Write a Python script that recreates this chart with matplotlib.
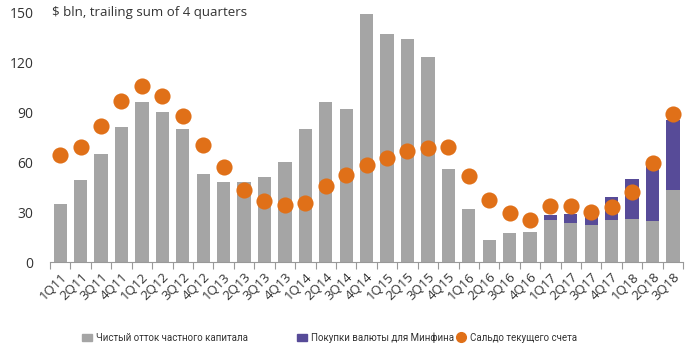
import numpy as np
import matplotlib
matplotlib.use("Agg")
import matplotlib.pyplot as plt
from matplotlib.lines import Line2D
from matplotlib.patches import Patch

plt.rcParams['font.family'] = ['Open Sans', 'DejaVu Sans']

# Данные (млрд долл., скользящая сумма за 4 квартала)
kvartaly = ['1Q11', '2Q11', '3Q11', '4Q11', '1Q12', '2Q12', '3Q12', '4Q12',
            '1Q13', '2Q13', '3Q13', '4Q13', '1Q14', '2Q14', '3Q14', '4Q14',
            '1Q15', '2Q15', '3Q15', '4Q15', '1Q16', '2Q16', '3Q16', '4Q16',
            '1Q17', '2Q17', '3Q17', '4Q17', '1Q18', '2Q18', '3Q18']
ottok = [35, 49, 65, 81, 96, 90, 80, 53, 48, 48, 51, 60, 80, 96, 92, 149,
         137, 134, 123, 56, 32, 13, 17.5, 18, 25, 23.5, 22.5, 25, 26, 24.5, 43]
minfin = [0, 0, 0, 0, 0, 0, 0, 0, 0, 0, 0, 0, 0, 0, 0, 0,
          0, 0, 0, 0, 0, 0, 0, 0, 3, 5.5, 4.5, 14, 24, 33, 42]
saldo = [64, 69, 81.5, 96.5, 105.5, 99.5, 87.5, 70.5, 57, 43, 36.5, 34.5, 35.5, 45.5, 52, 58.5,
         62.5, 66.5, 68.5, 69, 51.5, 37, 29.5, 25, 33.5, 33.5, 30, 33, 42, 59.5, 89]

seryi = '#A5A5A5'
fiolet = '#574B98'
oranzh = '#E07018'
tekst = '#333333'

x = np.arange(len(kvartaly))

fig = plt.figure(figsize=(7, 3.5), dpi=100)
ax = fig.add_axes([0.0714, 0.2514, 0.9046, 0.7143])

ax.bar(x, ottok, width=0.65, color=seryi, zorder=2)
ax.bar(x, minfin, width=0.65, bottom=ottok, color=fiolet, zorder=2)
ax.scatter(x, saldo, s=135, color=oranzh, zorder=3, linewidths=0)

ax.set_xlim(-0.5, len(kvartaly) - 0.5)
ax.set_ylim(0, 150)
ax.set_yticks([0, 30, 60, 90, 120, 150])
ax.tick_params(axis='y', length=0, labelsize=10, labelcolor=tekst, pad=12)

# подписи кварталов по центру, засечки между столбцами
ax.set_xticks(x)
ax.set_xticklabels(kvartaly, rotation=45, ha='right', rotation_mode='anchor',
                   fontsize=9.5, color=tekst)
ax.tick_params(axis='x', length=0, pad=6)
ax.set_xticks(np.arange(-0.5, len(kvartaly)), minor=True)
ax.tick_params(axis='x', which='minor', length=5, color='#999999', width=0.8)

for s in ['top', 'right', 'left']:
    ax.spines[s].set_visible(False)
ax.spines['bottom'].set_color('#999999')
ax.spines['bottom'].set_linewidth(0.8)

fig.text(0.074, 0.965, '$ bln, trailing sum of 4 quarters', fontsize=9.5,
         color=tekst, va='center', ha='left')

# легенда снизу
leg_kw = dict(frameon=False, handlelength=1.0, handletextpad=0.45,
              labelcolor=tekst, loc='center left', borderpad=0, borderaxespad=0,
              prop=dict(family=['Roboto', 'DejaVu Sans'], size=7))
fig.legend(handles=[Patch(color=seryi, label='Чистый отток частного капитала')],
           bbox_to_anchor=(0.117, 0.035), **leg_kw)
fig.legend(handles=[Patch(color=fiolet, label='Покупки валюты для Минфина')],
           bbox_to_anchor=(0.424, 0.035), **leg_kw)
fig.legend(handles=[Line2D([], [], marker='o', ls='', color=oranzh, markersize=7,
                           label='Сальдо текущего счета')],
           bbox_to_anchor=(0.652, 0.035), **leg_kw)

plt.savefig('out.png', dpi=100)
